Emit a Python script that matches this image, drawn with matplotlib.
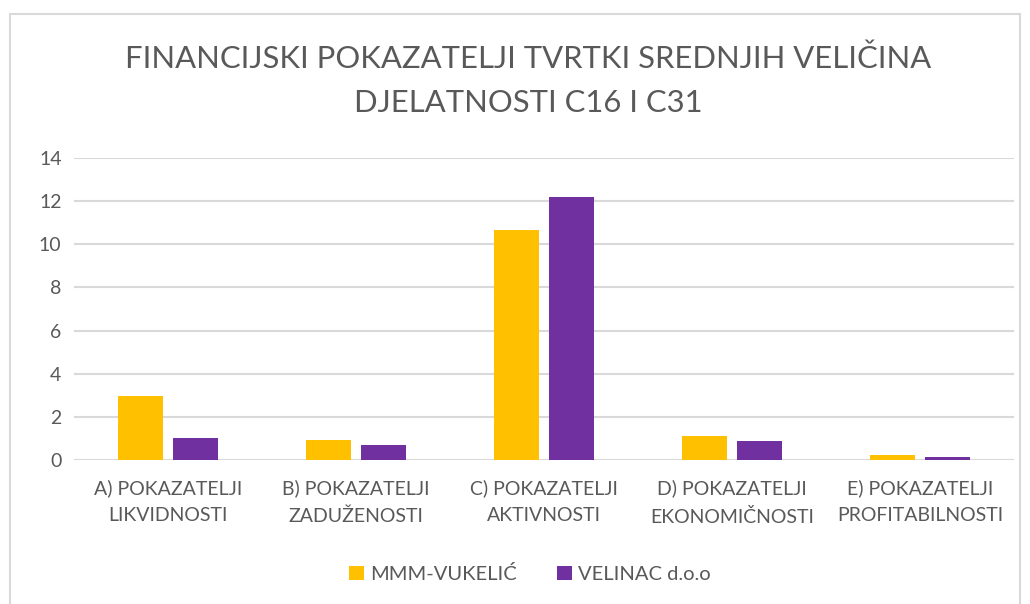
import matplotlib
matplotlib.use("Agg")
import matplotlib.pyplot as plt
import numpy as np
from matplotlib.patches import Rectangle

plt.rcParams['font.family'] = ['Lato', 'DejaVu Sans']

categories = ["A) POKAZATELJI\nLIKVIDNOSTI", "B) POKAZATELJI\nZADUŽENOSTI", "C) POKAZATELJI\nAKTIVNOSTI",
              "D) POKAZATELJI\nEKONOMIČNOSTI", "E) POKAZATELJI\nPROFITABILNOSTI"]
series_names = ["MMM-VUKELIĆ", "VELINAC d.o.o"]
mmm = [2.97, 0.94, 10.68, 1.13, 0.23]
velinac = [1.0, 0.71, 12.18, 0.90, 0.12]
yticks = [0, 2, 4, 6, 8, 10, 12, 14]
title = "FINANCIJSKI POKAZATELJI TVRTKI SREDNJIH VELIČINA\nDJELATNOSTI C16 I C31"

colors = ["#FFC000", "#7030A0"]
grey = "#595959"

W, H = 1030, 604
fig = plt.figure(figsize=(W / 100, H / 100), dpi=100)
fig.patches.append(Rectangle((10 / W, -0.05), (1020 - 10) / W, 1.05 - 14 / H, transform=fig.transFigure,
                             fill=False, edgecolor="#d9d9d9", linewidth=1.5))

ax = fig.add_axes([74 / W, 1 - 460 / H, (1014 - 74) / W, (460 - 158) / H])
x = np.arange(len(categories))
bw = 0.24
gap = 0.025
ax.bar(x - bw / 2 - gap, mmm, width=bw, color=colors[0], label=series_names[0], zorder=3)
ax.bar(x + bw / 2 + gap, velinac, width=bw, color=colors[1], label=series_names[1], zorder=3)

ax.set_ylim(0, 14)
ax.set_xlim(-0.5, len(categories) - 0.5)
ax.set_yticks(yticks)
ax.set_yticklabels([str(v) for v in yticks], color=grey, fontsize=14)
ax.set_xticks(x)
ax.set_xticklabels(categories, color=grey, fontsize=14, linespacing=1.7)
ax.tick_params(length=0)
ax.tick_params(axis='y', pad=9)
ax.tick_params(axis='x', pad=14)
ax.grid(axis='y', color="#d9d9d9", linewidth=1.5, zorder=0)
for s in ax.spines.values():
    s.set_visible(False)

fig.text(528 / W, 1 - 81 / H, title, ha="center", va="center", fontsize=22.3, color=grey,
         linespacing=1.68, fontweight="normal")

leg = fig.legend(loc="center", bbox_to_anchor=(530 / W, 1 - 574 / H), ncol=2, frameon=False,
                 fontsize=14.5, handlelength=0.75, handleheight=0.75, handletextpad=0.3, columnspacing=2.0)
for t in leg.get_texts():
    t.set_color(grey)

fig.savefig("out.png", dpi=100, facecolor="white")
